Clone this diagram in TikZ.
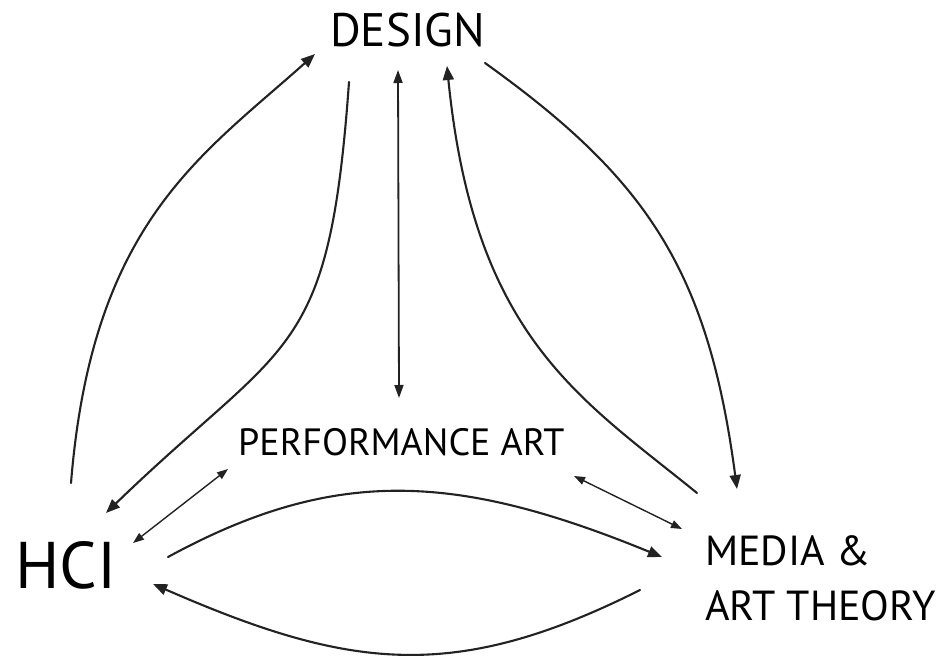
\documentclass[tikz,border=0pt]{standalone}
\usepackage{fontspec}
\setmainfont{PT Sans}
\usetikzlibrary{arrows.meta}
\definecolor{ink}{HTML}{222222}
\begin{document}
\begin{tikzpicture}[x=1pt,y=-1pt,
  label/.style={inner sep=0pt, anchor=base west, text=black},
  link/.style={line width=2.1pt, draw=ink, line cap=round,
    -{Triangle[length=14pt,width=11pt]}},
  axis/.style={line width=1.8pt, draw=ink,
    {Triangle[length=13pt,width=9pt]}-{Triangle[length=13pt,width=9pt]}},
  duo/.style={line width=1.4pt, draw=ink,
    {Triangle[length=11pt,width=8pt]}-{Triangle[length=11pt,width=8pt]}}]
\useasboundingbox (0,0) rectangle (944,658);

% labels
\node[label, font=\fontsize{47}{50}\selectfont] (design) at (330,47) {DESIGN};
\node[label, font=\fontsize{66}{70}\selectfont] (hci) at (15,588) {HCI};
\node[label, font=\fontsize{38}{40}\selectfont] (perf) at (238,455) {PERFORMANCE ART};
\node[label, font=\fontsize{42}{55}\selectfont, align=left] (media) at (705,620)
  {MEDIA \&\\ART THEORY};

% connector ends
\coordinate (hciTop)    at (71,483);
\coordinate (desIn1)    at (315,54);
\coordinate (desOut1)   at (349,82);
\coordinate (hciIn1)    at (106,513);
\coordinate (desAxis)   at (398,70);
\coordinate (perfAxis)  at (399,398);
\coordinate (medOut1)   at (697,493);
\coordinate (desIn2)    at (447,66);
\coordinate (desOut2)   at (485,63);
\coordinate (medIn1)    at (737,489);
\coordinate (hciDuo)    at (133,543);
\coordinate (perfDuoL)  at (228,469);
\coordinate (perfDuoR)  at (574,476);
\coordinate (medDuo)    at (682,529);
\coordinate (hciOut)    at (168,557);
\coordinate (medIn2)    at (662,557);
\coordinate (medOut2)   at (640,590);
\coordinate (hciIn2)    at (153,584);

% HCI <-> DESIGN
\draw[link] (hciTop) .. controls (92,223) and (201,156) .. (desIn1);
\draw[link] (desOut1) .. controls (329,362) and (288,337) .. (hciIn1);
% DESIGN <-> PERFORMANCE ART
\draw[axis] (desAxis) -- (perfAxis);
% MEDIA & ART THEORY <-> DESIGN
\draw[link] (medOut1) .. controls (580,398) and (474,337) .. (desIn2);
\draw[link] (desOut2) .. controls (647,179) and (708,270) .. (medIn1);
% PERFORMANCE ART <-> HCI, MEDIA & ART THEORY
\draw[duo] (hciDuo) -- (perfDuoL);
\draw[duo] (perfDuoR) -- (medDuo);
% HCI <-> MEDIA & ART THEORY
\draw[link] (hciOut) .. controls (335,466) and (457,473) .. (medIn2);
\draw[link] (medOut2) .. controls (453,684) and (348,669) .. (hciIn2);
\end{tikzpicture}
\end{document}
